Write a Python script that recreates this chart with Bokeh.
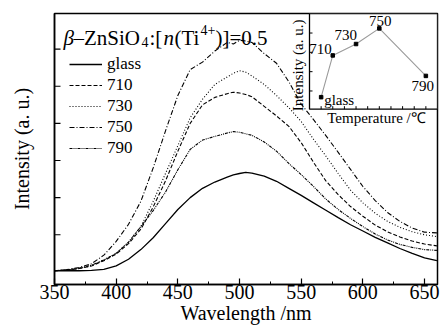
import math
from bokeh.plotting import figure
from bokeh.models import (ColumnDataSource, FixedTicker, Range1d, Legend, LegendItem, Label)
from bokeh.embed import file_html
from bokeh.resources import INLINE
from bokeh.core.properties import value

# ---------------- data ----------------
wavelength = [350, 360, 370, 380, 390, 400, 410, 420, 430, 440, 450, 460, 470, 480, 490, 495,
              500, 505, 510, 520, 530, 540, 550, 560, 570, 580, 590, 600, 610, 620, 630, 640, 650, 660]

glass = [0.03, 0.03, 0.03, 0.04, 0.07, 0.16, 0.34, 0.60, 0.92, 1.30, 1.68, 2.00, 2.25, 2.42, 2.55, 2.61,
         2.65, 2.68, 2.66, 2.58, 2.44, 2.25, 2.06, 1.86, 1.66, 1.46, 1.27, 1.10, 0.93, 0.78, 0.63, 0.50, 0.38, 0.30]
t710 = [0.03, 0.05, 0.09, 0.16, 0.30, 0.48, 0.76, 1.15, 1.75, 2.45, 3.25, 4.00, 4.50, 4.70, 4.80, 4.84,
        4.82, 4.78, 4.72, 4.46, 4.20, 3.92, 3.48, 2.95, 2.45, 2.08, 1.76, 1.50, 1.26, 1.08, 0.94, 0.83, 0.75, 0.70]
t730 = [0.03, 0.05, 0.09, 0.17, 0.32, 0.50, 0.80, 1.22, 1.90, 2.65, 3.40, 4.15, 4.65, 5.05, 5.25, 5.35,
        5.42, 5.38, 5.28, 5.05, 4.75, 4.42, 4.05, 3.57, 3.12, 2.65, 2.20, 1.86, 1.58, 1.36, 1.20, 1.08, 1.00, 0.95]
t750 = [0.03, 0.06, 0.12, 0.22, 0.45, 0.82, 1.28, 1.90, 2.80, 3.80, 4.75, 5.45, 5.65, 5.95, 6.18, 6.14,
        6.24, 6.22, 6.18, 5.88, 5.62, 5.12, 4.52, 4.10, 3.67, 3.22, 2.76, 2.30, 1.92, 1.60, 1.36, 1.18, 1.07, 1.05]
t790 = [0.03, 0.05, 0.10, 0.18, 0.32, 0.50, 0.80, 1.22, 1.65, 2.15, 2.75, 3.30, 3.55, 3.65, 3.74, 3.78,
        3.76, 3.72, 3.68, 3.50, 3.25, 2.92, 2.62, 2.30, 1.96, 1.68, 1.44, 1.22, 1.02, 0.86, 0.74, 0.66, 0.60, 0.58]

series_names = ["glass", "710", "730", "750", "790"]
series_values = [glass, t710, t730, t750, t790]

x_ticks = [350, 400, 450, 500, 550, 600, 650]
x_minor_ticks = [375, 425, 475, 525, 575, 625]
y_ticks = [1, 2, 3, 4, 5, 6]

# inset: peak intensity vs. treatment temperature ("glass" drawn left of 710)
inset_temp = [700, 710, 730, 750, 790]
inset_intensity = [2.68, 4.84, 5.43, 6.24, 3.78]
inset_labels = ["glass", "710", "730", "750", "790"]
inset_x_ticks = [700, 710, 720, 730, 740, 750, 760, 770, 780, 790]
inset_y_ticks = [3, 4, 5, 6]

# ---------------- layout constants ----------------
W, H = 448, 326
FL, FR, FT, FB = 54, 437, 13, 285          # frame edges in px
XR = (350, 660.5)
YR = (-0.34, 6.96)
IXR = (690, 800)                           # inset ranges
IYR = (2.06, 7.01)
IL, IB = 309, 109                          # inset left / bottom edge in px

FONT = "Liberation Serif"

def sx(px):
    return XR[0] + (px - FL) * (XR[1] - XR[0]) / (FR - FL)

def sy(py):
    return YR[0] + (FB - py) * (YR[1] - YR[0]) / (FB - FT)

def ix(px):
    return IXR[0] + (px - IL) * (IXR[1] - IXR[0]) / (FR - IL)

def iy(py):
    return IYR[0] + (IB - py) * (IYR[1] - IYR[0]) / (IB - FT)

p = figure(width=W, height=H, x_range=Range1d(*XR), y_range=Range1d(*YR),
           output_backend="svg", toolbar_location=None,
           min_border_left=FL, min_border_right=W - FR, min_border_top=FT, min_border_bottom=H - FB)
p.grid.visible = False
p.outline_line_color = "black"
p.outline_line_width = 1.5
p.background_fill_color = "white"
p.border_fill_color = "white"

# axes
p.xaxis.ticker = FixedTicker(ticks=x_ticks, minor_ticks=x_minor_ticks)
p.xaxis.axis_label = "Wavelength /nm"
p.yaxis.ticker = FixedTicker(ticks=[], minor_ticks=[])
p.yaxis.axis_label = "Intensity (a. u.)"
for ax in (p.xaxis[0], p.yaxis[0]):
    ax.axis_line_color = "black"
    ax.axis_line_width = 1.5
    ax.major_tick_in = 6
    ax.major_tick_out = 0
    ax.minor_tick_in = 3
    ax.minor_tick_out = 0
    ax.major_tick_line_color = "black"
    ax.minor_tick_line_color = "black"
    ax.major_tick_line_width = 1.2
    ax.major_label_text_font = FONT
    ax.major_label_text_color = "black"
    ax.axis_label_text_font = FONT
    ax.axis_label_text_font_style = "normal"
    ax.axis_label_text_color = "black"
p.xaxis.major_label_text_font_size = "20px"
p.xaxis.major_label_standoff = 0
p.xaxis.axis_label_text_font_size = "20px"
p.xaxis.axis_label_standoff = 0
p.yaxis.axis_label_text_font_size = "20px"
p.yaxis.axis_label_standoff = 22
p.yaxis.major_label_standoff = 0

# y ticks (unlabelled, drawn inward from the left edge)
ytick_len = 6 * (XR[1] - XR[0]) / (FR - FL)
p.segment(x0=[XR[0]] * len(y_ticks), y0=y_ticks, x1=[XR[0] + ytick_len] * len(y_ticks), y1=y_ticks,
          line_color="black", line_width=1.2)

# spectra
dashes = ["solid", "4 2", "1 2", "5 2 1 2", "3 1 1 1 1 1"]
widths = [1.3, 1.1, 1.1, 1.1, 1.1]
source = ColumnDataSource(dict(wl=wavelength, **{f"s{i}": v for i, v in enumerate(series_values)}))
items = []
for i, name in enumerate(series_names):
    r = p.line("wl", f"s{i}", source=source, line_color="black", line_width=widths[i],
               line_dash=dashes[i])
    items.append(LegendItem(label=name, renderers=[r]))

legend = Legend(items=items, location=(15, 126), padding=0, margin=0, spacing=1,
                glyph_width=33, glyph_height=20, label_height=20, label_standoff=5,
                label_text_font=FONT, label_text_font_size="17px", label_text_color="black",
                border_line_color=None, background_fill_alpha=0)
p.add_layout(legend)

# title pieces
title_parts = [
    ("\u03b2", 63, 37.5, "21px", "italic"),
    ("\u2013ZnSiO", 73, 37.5, "21px", "normal"),
    ("4", 141, 42, "14px", "normal"),
    (":[", 149, 37.5, "21px", "normal"),
    ("n", 163, 37.5, "21px", "italic"),
    ("(Ti", 174, 37.5, "21px", "normal"),
    ("4+", 200, 30, "14px", "normal"),
    (")]=0.5", 215, 37.5, "21px", "normal"),
]
for txt, px, py, fs, st in title_parts:
    p.add_layout(Label(x=sx(px), y=sy(py), text=txt, text_font=FONT, text_font_size=fs,
                       text_font_style=st, text_baseline="alphabetic", text_align="left",
                       text_color="black"))

# ---------------- inset ----------------
ixr = Range1d(ix(FL), IXR[1])
iyr = Range1d(iy(FB), IYR[1])
p.extra_x_ranges["inset"] = ixr
p.extra_y_ranges["inset"] = iyr
p.quad(left=[IXR[0]], right=[IXR[1]], bottom=[IYR[0]], top=[IYR[1]], fill_color="white",
       line_color="black", line_width=1.3, x_range_name="inset", y_range_name="inset")

tick_len_y = 3 * (IYR[1] - IYR[0]) / (IB - FT)
tick_len_x = 3 * (IXR[1] - IXR[0]) / (FR - IL)
p.segment(x0=inset_x_ticks, y0=[IYR[0]] * len(inset_x_ticks), x1=inset_x_ticks,
          y1=[IYR[0] + tick_len_y] * len(inset_x_ticks), line_color="black", line_width=1,
          x_range_name="inset", y_range_name="inset")
p.segment(x0=[IXR[0]] * len(inset_y_ticks), y0=inset_y_ticks, x1=[IXR[0] + tick_len_x] * len(inset_y_ticks),
          y1=inset_y_ticks, line_color="black", line_width=1,
          x_range_name="inset", y_range_name="inset")

isrc = ColumnDataSource(dict(t=inset_temp, v=inset_intensity, lab=inset_labels,
                             xo=[3, -1, 1, 1, -3], yo=[3, -6, -9, -7, 10],
                             al=["left", "right", "right", "center", "center"]))
p.line("t", "v", source=isrc, line_color="#9a9a9a", line_width=1.1,
       x_range_name="inset", y_range_name="inset")
p.scatter("t", "v", source=isrc, marker="square", size=3.5, color="black",
          x_range_name="inset", y_range_name="inset")
p.text("t", "v", text="lab", source=isrc, x_offset="xo", y_offset="yo", text_align="al",
       text_baseline="middle", text_font=value(FONT), text_font_size="15px", text_color="black",
       x_range_name="inset", y_range_name="inset")

p.add_layout(Label(x=ix(376), y=iy(118), text="Temperature /\u2103", text_font=FONT,
                   text_font_size="15px", text_align="center", text_baseline="middle",
                   text_color="black", x_range_name="inset", y_range_name="inset"))
p.add_layout(Label(x=ix(297), y=iy(65), text="Intensity (a. u.)", text_font=FONT,
                   text_font_size="15px", text_align="center", text_baseline="middle",
                   angle=math.pi / 2, text_color="black", x_range_name="inset", y_range_name="inset"))

open("out.html", "w").write(file_html(p, INLINE))
